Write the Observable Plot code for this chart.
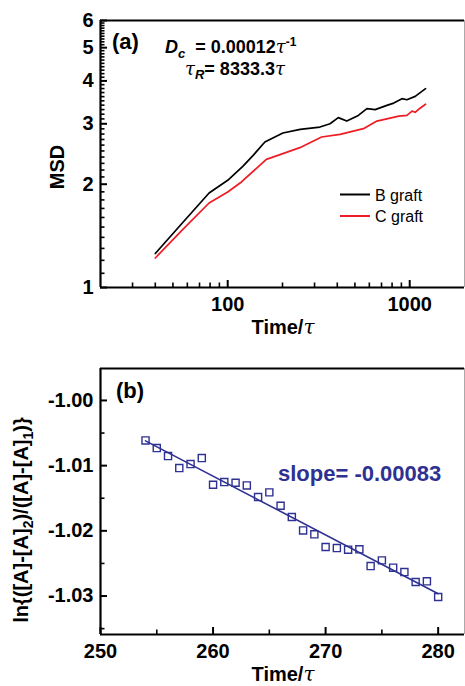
<!DOCTYPE html>
<html><head><meta charset="utf-8">
<script src="https://cdn.jsdelivr.net/npm/d3@7"></script>
<script src="https://cdn.jsdelivr.net/npm/@observablehq/plot@0.6"></script>
<style>
body{margin:0;background:#fff;}
#wrap{width:465px;height:686px;position:relative;overflow:hidden;}
#wrap svg{display:block;}
</style></head><body><div id="wrap"></div>
<script>
// ---------- Panel (a) data ----------
const timeB = [40, 56, 79, 100, 121, 138, 160, 201, 250, 321, 365, 405, 451, 522, 582, 646, 749, 817, 907, 965, 1072, 1222];
const msdB  = [1.256, 1.536, 1.886, 2.053, 2.255, 2.428, 2.654, 2.82, 2.89, 2.935, 3.002, 3.126, 3.055, 3.174, 3.32, 3.30, 3.394, 3.447, 3.55, 3.526, 3.606, 3.797];
const timeC = [40, 56, 79, 100, 119, 163, 201, 249, 328, 414, 557, 660, 872, 965, 1030, 1072, 1130, 1222];
const msdC  = [1.219, 1.468, 1.763, 1.898, 2.03, 2.363, 2.455, 2.556, 2.745, 2.795, 2.903, 3.055, 3.159, 3.174, 3.267, 3.24, 3.32, 3.42];
const seriesNames = ["B graft", "C graft"];
const seriesColors = ["#000000", "#ee1c24"];
const xTicksA = [100, 1000];
const xMinorA = [30, 40, 50, 60, 70, 80, 90, 200, 300, 400, 500, 600, 700, 800, 900];
const yTicksA = [1, 2, 3, 4, 5, 6];
const yMinorA = [1.1,1.2,1.3,1.4,1.5,1.6,1.7,1.8,1.9,2.1,2.2,2.3,2.4,2.5,2.6,2.7,2.8,2.9,3.1,3.2,3.3,3.4,3.5,3.6,3.7,3.8,3.9,4.1,4.2,4.3,4.4,4.5,4.6,4.7,4.8,4.9,5.1,5.2,5.3,5.4,5.5,5.6,5.7,5.8,5.9];
const xDomainA = [20, 2000];
const yDomainA = [1, 6];

// ---------- Panel (b) data ----------
const timeFit = [254,255,256,257,258,259,260,261,262,263,264,265,266,267,268,269,270,271,272,273,274,275,276,277,278,279,280];
const lnRatio = [-1.00613,-1.00731,-1.00853,-1.01037,-1.00976,-1.00884,-1.01293,-1.01252,-1.01262,-1.01303,-1.01482,-1.01410,-1.01615,-1.01788,-1.01993,-1.02054,-1.02248,-1.02264,-1.02289,-1.02284,-1.02540,-1.02453,-1.02565,-1.02632,-1.02785,-1.02775,-1.03015];
const xTicksB = [250, 260, 270, 280];
const xMinorB = [255, 265, 275];
const yTicksB = [-1.00, -1.01, -1.02, -1.03];
const yMinorB = [-1.005, -1.015, -1.025, -1.035];
const xDomainB = [250, 282.34];
const yDomainB = [-1.0359, -0.9951];
const navy = "#2e3192";

const FONT = '"Liberation Sans", Arial, Helvetica, sans-serif';
const SERIF = '"DejaVu Serif", "Liberation Serif", serif';
const W = 465;

const dataA = [
  ...timeB.map((t, i) => ({t, msd: msdB[i], s: seriesNames[0]})),
  ...timeC.map((t, i) => ({t, msd: msdC[i], s: seriesNames[1]}))
];
const dataB = timeFit.map((t, i) => ({t, v: lnRatio[i]}));

// Inward (Origin-style) ticks as rules whose far end comes from the scale's inverse
function inwardTicks(sx, sy, xDom, yDom, xMaj, xMin, yMaj, yMin) {
  const x0 = xDom[0], y0 = yDom[0];
  const px0 = sx.apply(x0), py0 = sy.apply(y0);
  const yEnd = len => sy.invert(py0 - len);
  const xEnd = len => sx.invert(px0 + len);
  return [
    Plot.ruleX(xMaj, {x: d => d, y1: y0, y2: yEnd(7), stroke: "#000", strokeWidth: 2}),
    Plot.ruleX(xMin, {x: d => d, y1: y0, y2: yEnd(4.5), stroke: "#000", strokeWidth: 1.6}),
    Plot.ruleY(yMaj, {y: d => d, x1: x0, x2: xEnd(7), stroke: "#000", strokeWidth: 2}),
    Plot.ruleY(yMin, {y: d => d, x1: x0, x2: xEnd(4.5), stroke: "#000", strokeWidth: 1.6})
  ];
}

function rich(svg, {x, y, anchor = "start", rotate = 0, parts, size = 20, weight = "bold", fill = "#000"}) {
  const t = d3.select(svg).append("text")
    .attr("transform", `translate(${x},${y})` + (rotate ? ` rotate(${rotate})` : ""))
    .attr("text-anchor", anchor)
    .attr("font-family", FONT).attr("font-size", size).attr("font-weight", weight).attr("fill", fill);
  for (const p of parts) {
    const s = t.append("tspan").text(p.t);
    if (p.dy) s.attr("dy", p.dy);
    if (p.dx) s.attr("dx", p.dx);
    if (p.size) s.attr("font-size", p.size);
    if (p.style) s.attr("font-style", p.style);
    if (p.family) s.attr("font-family", p.family);
    if (p.weight) s.attr("font-weight", p.weight);
  }
  return t;
}

// ---------- Panel (a) ----------
const mA = {top: 20, right: 1, bottom: 53, left: 100};
const hA = 340;
const sxA = Plot.scale({x: {type: "log", domain: xDomainA, range: [mA.left, W - mA.right]}});
const syA = Plot.scale({y: {type: "log", domain: yDomainA, range: [hA - mA.bottom, mA.top]}});
const chartA = Plot.plot({
  width: W, height: hA,
  marginTop: mA.top, marginRight: mA.right, marginBottom: mA.bottom, marginLeft: mA.left,
  style: {fontFamily: FONT, background: "transparent", overflow: "visible", color: "#000"},
  x: {type: "log", domain: xDomainA},
  y: {type: "log", domain: yDomainA},
  color: {domain: seriesNames, range: seriesColors},
  marks: [
    Plot.line(dataA, {x: "t", y: "msd", z: "s", stroke: "s", strokeWidth: 1.7}),
    ...inwardTicks(sxA, syA, xDomainA, yDomainA, xTicksA, xMinorA, yTicksA, yMinorA),
    Plot.axisX(xTicksA, {tickSize: 0, tickPadding: 9, fontSize: 20, fontWeight: "bold", tickFormat: d => String(d), label: null}),
    Plot.axisY(yTicksA, {tickSize: 0, tickPadding: 7, fontSize: 20, fontWeight: "bold", tickFormat: d => String(d), label: null}),
    Plot.ruleY([yDomainA[0]], {strokeWidth: 2.2}),
    Plot.ruleY([yDomainA[1]], {strokeWidth: 2.2}),
    Plot.ruleX([xDomainA[0]], {strokeWidth: 2.2}),
    Plot.ruleX([xDomainA[1]], {stroke: "#aaa", strokeWidth: 1})
  ]
});
document.getElementById("wrap").appendChild(chartA);

rich(chartA, {x: 112, y: 49, size: 22, parts: [{t: "(a)"}]});
rich(chartA, {x: 165, y: 53, size: 18, parts: [
  {t: "D", style: "italic"},
  {t: "c", style: "italic", size: 13, dy: 5},
  {t: " = 0.00012", dy: -5, dx: 5, style: "normal"},
  {t: "τ", style: "italic", family: SERIF, weight: "normal"},
  {t: "-1", size: 12, dy: -7}
]});
rich(chartA, {x: 185, y: 75, size: 18, parts: [
  {t: "τ", style: "italic", family: SERIF, weight: "normal"},
  {t: "R", style: "italic", size: 13, dy: 4},
  {t: "= 8333.3", dy: -4},
  {t: "τ", style: "italic", family: SERIF, weight: "normal"}
]});
rich(chartA, {x: 64, y: 167, rotate: -90, anchor: "middle", size: 20, parts: [{t: "MSD"}]});
rich(chartA, {x: 283, y: 334, anchor: "middle", size: 20, parts: [
  {t: "Time/"}, {t: "τ", style: "italic", family: SERIF, weight: "normal"}
]});
// legend
const legA = d3.select(chartA).append("g");
seriesNames.forEach((name, i) => {
  const y = 194.5 + i * 21.5;
  legA.append("line").attr("x1", 340).attr("x2", 370).attr("y1", y).attr("y2", y)
    .attr("stroke", seriesColors[i]).attr("stroke-width", 2);
  legA.append("text").attr("x", 375).attr("y", y + 6).attr("text-anchor", "start")
    .attr("font-family", FONT).attr("font-size", 16).attr("font-weight", "normal")
    .attr("fill", "#000").text(name);
});

// ---------- Panel (b) ----------
const mB = {top: 28, right: 1, bottom: 52, left: 100};
const hB = 346;
const sxB = Plot.scale({x: {type: "linear", domain: xDomainB, range: [mB.left, W - mB.right]}});
const syB = Plot.scale({y: {type: "linear", domain: yDomainB, range: [hB - mB.bottom, mB.top]}});
const chartB = Plot.plot({
  width: W, height: hB,
  marginTop: mB.top, marginRight: mB.right, marginBottom: mB.bottom, marginLeft: mB.left,
  style: {fontFamily: FONT, background: "transparent", overflow: "visible", color: "#000"},
  x: {domain: xDomainB},
  y: {domain: yDomainB},
  marks: [
    Plot.linearRegressionY(dataB, {x: "t", y: "v", stroke: navy, strokeWidth: 1.6, ci: 0}),
    Plot.dot(dataB, {x: "t", y: "v", symbol: "square", r: 4, stroke: navy, fill: "none", strokeWidth: 1.4}),
    ...inwardTicks(sxB, syB, xDomainB, yDomainB, xTicksB, xMinorB, yTicksB, yMinorB),
    Plot.axisX(xTicksB, {tickSize: 0, tickPadding: 9, fontSize: 20, fontWeight: "bold", tickFormat: d => String(d), label: null}),
    Plot.axisY(yTicksB, {tickSize: 0, tickPadding: 7, fontSize: 20, fontWeight: "bold", tickFormat: d => d.toFixed(2), label: null}),
    Plot.ruleY([yDomainB[0]], {strokeWidth: 2.2}),
    Plot.ruleY([yDomainB[1]], {strokeWidth: 2.2}),
    Plot.ruleX([xDomainB[0]], {strokeWidth: 2.2}),
    Plot.ruleX([xDomainB[1]], {stroke: "#aaa", strokeWidth: 1})
  ]
});
document.getElementById("wrap").appendChild(chartB);

rich(chartB, {x: 116, y: 58, size: 22, parts: [{t: "(b)"}]});
rich(chartB, {x: 278, y: 141, size: 22, fill: navy, parts: [{t: "slope= -0.00083"}]});
rich(chartB, {x: 28, y: 180, rotate: -90, anchor: "middle", size: 20, parts: [
  {t: "ln{([A]-[A]"},
  {t: "2", size: 14, dy: 5},
  {t: ")/([A]-[A]", dy: -5},
  {t: "1", size: 14, dy: 5},
  {t: ")}", dy: -5}
]});
rich(chartB, {x: 283, y: 341, anchor: "middle", size: 20, parts: [
  {t: "Time/"}, {t: "τ", style: "italic", family: SERIF, weight: "normal"}
]});
</script>
</body></html>
